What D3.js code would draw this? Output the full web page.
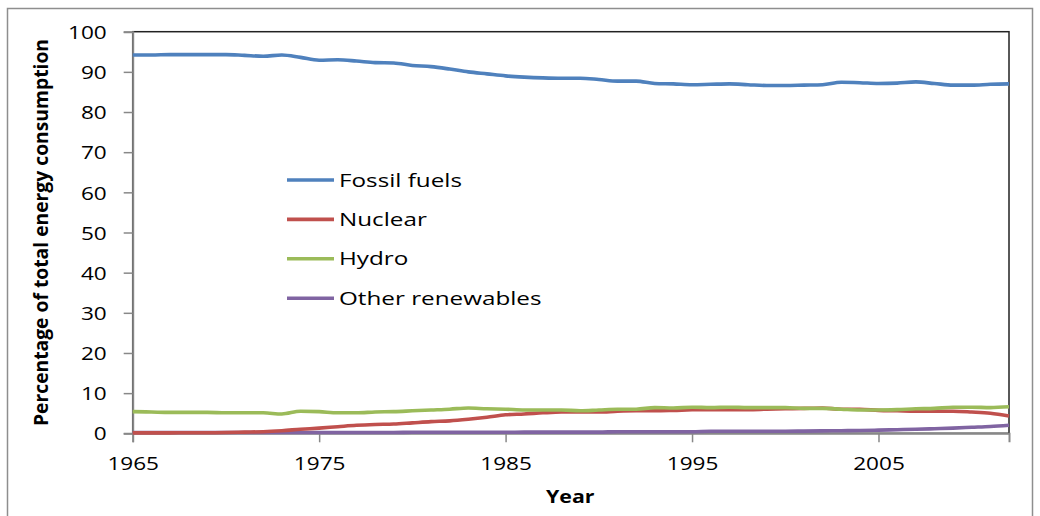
<!DOCTYPE html>
<html>
<head>
<meta charset="utf-8">
<script src="https://cdn.jsdelivr.net/npm/d3@7"></script>
<style>
  html, body { margin: 0; padding: 0; background: #fff; }
  svg { display: block; }
  text { font-family: "Open Sans", sans-serif; fill: #000; }
</style>
</head>
<body>
<svg id="chart" width="1040" height="516"></svg>
<script>
// ---- Data ----
const years = d3.range(1965, 2013);
const fossil = [94.2,94.2,94.3,94.3,94.3,94.3,94.1,93.9,94.2,93.6,92.9,93.0,92.7,92.3,92.2,91.6,
  91.3,90.7,90.0,89.5,89.0,88.7,88.5,88.4,88.4,88.1,87.7,87.7,87.1,87.0,86.8,86.9,
  87.0,86.8,86.6,86.6,86.7,86.8,87.4,87.3,87.1,87.2,87.5,87.1,86.7,86.7,86.9,87.0];
const nuclear = [0.1,0.1,0.1,0.15,0.15,0.2,0.3,0.4,0.65,1.0,1.3,1.65,2.0,2.2,2.3,2.6,
  2.9,3.1,3.5,4.0,4.6,4.8,5.1,5.3,5.3,5.3,5.5,5.6,5.6,5.7,5.85,5.9,
  5.9,5.9,6.0,6.1,6.2,6.3,6.0,6.0,5.7,5.6,5.5,5.5,5.5,5.3,5.0,4.3];
const hydro = [5.4,5.3,5.2,5.2,5.2,5.1,5.1,5.1,4.8,5.5,5.4,5.1,5.1,5.3,5.4,5.6,
  5.8,6.0,6.3,6.1,6.0,5.8,5.8,5.8,5.6,5.8,6.0,6.0,6.4,6.3,6.5,6.4,
  6.5,6.4,6.4,6.4,6.2,6.2,6.0,5.8,5.8,5.9,6.1,6.2,6.5,6.5,6.4,6.6];
const other = [0.2,0.2,0.2,0.2,0.2,0.2,0.2,0.2,0.2,0.2,0.2,0.2,0.2,0.2,0.2,0.25,
  0.25,0.25,0.25,0.25,0.25,0.3,0.3,0.3,0.3,0.3,0.4,0.4,0.4,0.4,0.4,0.5,
  0.5,0.5,0.5,0.5,0.55,0.6,0.65,0.7,0.8,0.9,1.0,1.15,1.3,1.5,1.7,2.0];
const seriesNames = ["Fossil fuels", "Nuclear", "Hydro", "Other renewables"];
const seriesValues = [fossil, nuclear, hydro, other];
const seriesColors = ["#4F81BD", "#C0504D", "#9BBB59", "#8064A2"];
const xTickYears = [1965, 1975, 1985, 1995, 2005];
const yTicks = [0, 10, 20, 30, 40, 50, 60, 70, 80, 90, 100];
const yTitle = "Percentage of total energy consumption";
const xTitle = "Year";

// ---- Layout ----
const svg = d3.select("#chart");
const L = 132.7, R = 1009, T = 31.7, B = 433.3;

const x = d3.scaleLinear().domain([1965, 2012]).range([L, R]);
const y = d3.scaleLinear().domain([0, 100]).range([B, T]);

function stretch(sx) {
  return function (sel) {
    sel.each(function () {
      const w = this.getComputedTextLength();
      if (w > 0) {
        d3.select(this).attr("textLength", w * sx).attr("lengthAdjust", "spacingAndGlyphs");
      }
    });
  };
}

// outer frame
svg.append("rect")
  .attr("x", 7.5).attr("y", 8.5).attr("width", 1025).attr("height", 540)
  .attr("fill", "none").attr("stroke", "#8e8e8e").attr("stroke-width", 1.5);

// plot border (top/right dark)
svg.append("rect")
  .attr("x", L).attr("y", T).attr("width", R - L).attr("height", B - T)
  .attr("fill", "none").attr("stroke", "#222").attr("stroke-width", 1.5);

// y axis
const yAxis = d3.axisLeft(y).tickValues(yTicks).tickSize(9).tickPadding(17);
const gy = svg.append("g").attr("transform", `translate(${L},0)`).call(yAxis);
gy.select(".domain").attr("stroke", "#888").attr("stroke-width", 2);
gy.selectAll(".tick line").attr("stroke", "#888").attr("stroke-width", 1.5);
gy.selectAll(".tick text").attr("font-size", 18.5).attr("font-family", "Open Sans").attr("fill", "#111")
  .attr("font-weight", 500).attr("dy", "0.36em").call(stretch(1.22));

// x axis
const xAxis = d3.axisBottom(x).tickValues(xTickYears).tickFormat(d3.format("d")).tickSize(9).tickPadding(15);
const gx = svg.append("g").attr("transform", `translate(0,${B})`).call(xAxis);
gx.select(".domain").attr("stroke", "#888").attr("stroke-width", 2);
gx.selectAll(".tick line").attr("stroke", "#888").attr("stroke-width", 1.5);
gx.selectAll(".tick text").attr("font-size", 18.5).attr("font-family", "Open Sans").attr("fill", "#111")
  .attr("font-weight", 500).attr("dy", "0.71em").call(stretch(1.22));

// lines
const line = d3.line().x((d, i) => x(years[i])).y(d => y(d)).curve(d3.curveMonotoneX);
const drawOrder = [3, 1, 2, 0];
drawOrder.forEach(k => {
  svg.append("path")
    .datum(seriesValues[k])
    .attr("d", line)
    .attr("fill", "none")
    .attr("stroke", seriesColors[k])
    .attr("stroke-width", 3.6)
    .attr("stroke-linejoin", "round");
});

// legend
const legY0 = 180, legStep = 39.4;
seriesNames.forEach((name, i) => {
  const ly = legY0 + i * legStep;
  svg.append("line")
    .attr("x1", 287).attr("x2", 334).attr("y1", ly).attr("y2", ly)
    .attr("stroke", seriesColors[i]).attr("stroke-width", 3.6);
  svg.append("text")
    .attr("x", 339).attr("y", ly + 6.6)
    .attr("font-size", 18.5)
    .attr("font-weight", 500)
    .attr("fill", "#111")
    .text(name)
    .call(stretch(1.31));
});

// axis titles
svg.append("text")
  .attr("transform", `translate(48,${(T + B) / 2}) rotate(-90)`)
  .attr("text-anchor", "middle")
  .attr("font-size", 19.3)
  .attr("font-weight", "bold")
  .text(yTitle);

svg.append("text")
  .attr("x", 546).attr("y", 503)
  .attr("font-size", 17.5)
  .attr("font-weight", "bold")
  .text(xTitle)
  .call(stretch(1.22));
</script>
</body>
</html>
